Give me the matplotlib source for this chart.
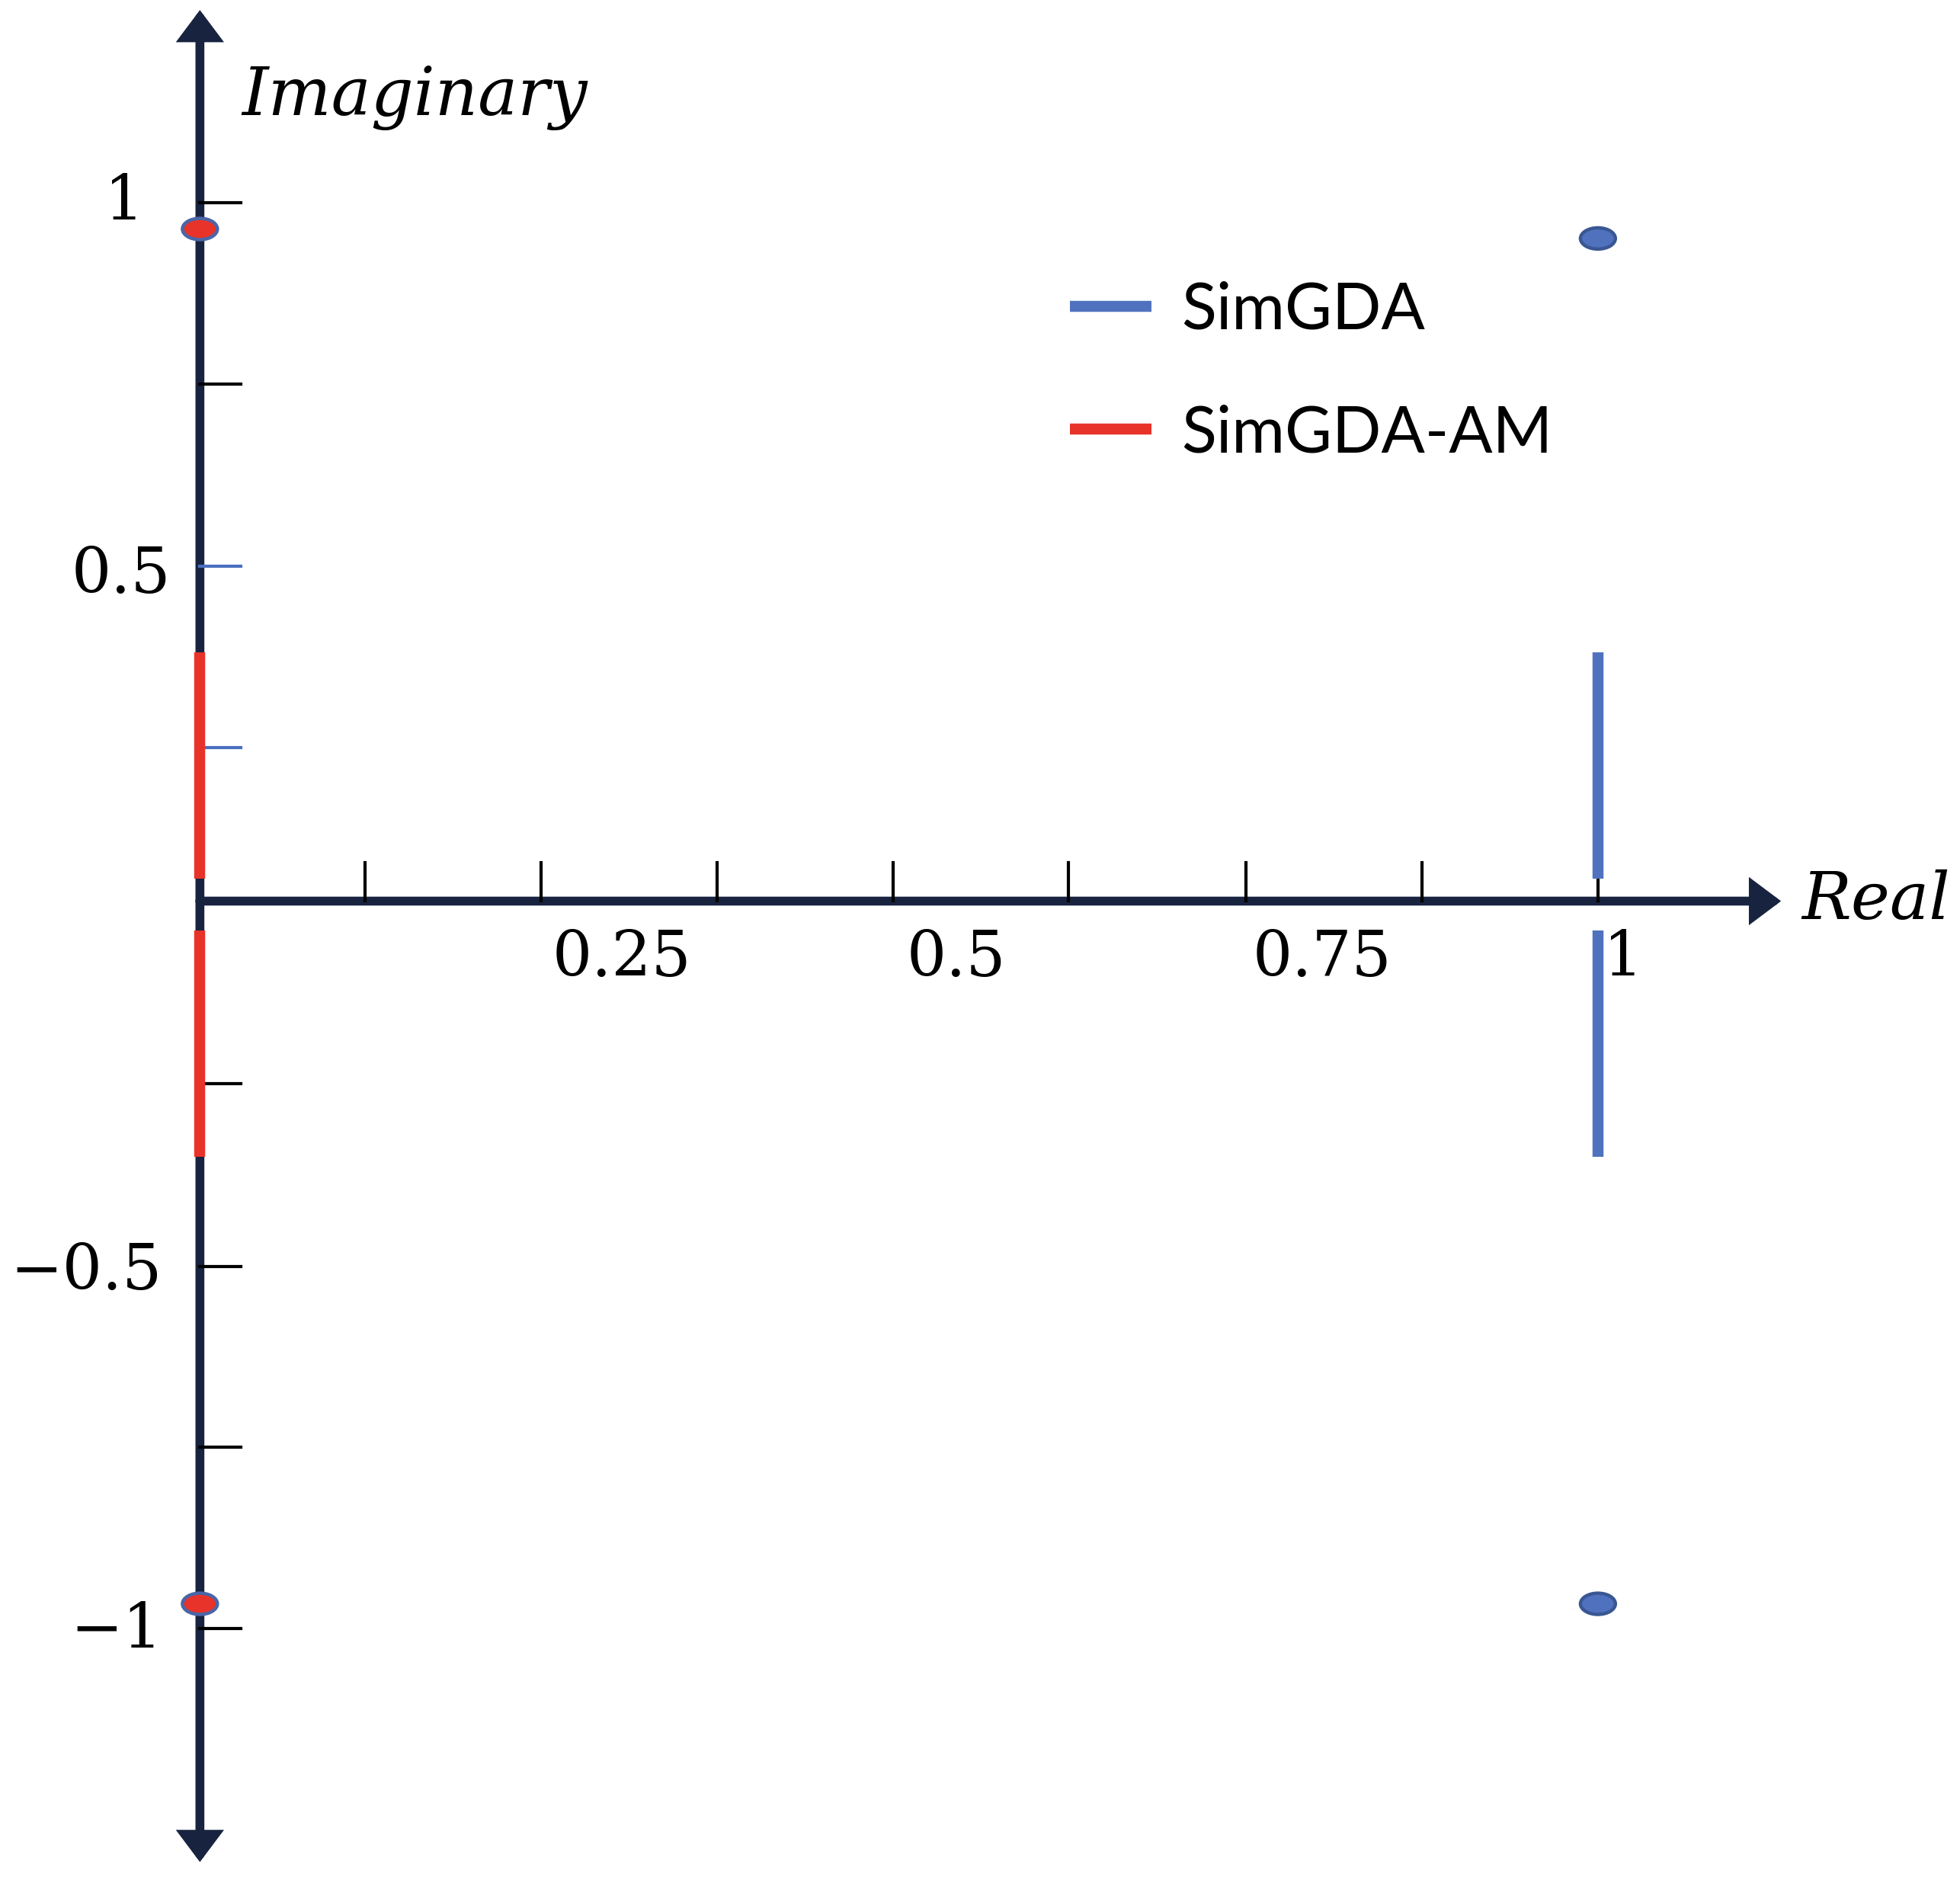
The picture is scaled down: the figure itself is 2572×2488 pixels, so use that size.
import numpy as np
import matplotlib.pyplot as plt
from matplotlib.patches import Ellipse

# eigenvalue pictures
simgda_pts_re = [1.0, 1.0]
simgda_pts_im = [0.911, -0.966]
simgda_seg_re = [1.0, 1.0]
simgda_seg_lo = [0.031, -0.351]
simgda_seg_hi = [0.342, -0.040]

am_pts_re = [0.0, 0.0]
am_pts_im = [0.924, -0.966]
am_seg_re = [0.0, 0.0]
am_seg_lo = [0.031, -0.351]
am_seg_hi = [0.342, -0.040]

# tick marks as drawn in the picture
x_ticks = [0.118, 0.244, 0.370, 0.496, 0.621, 0.748, 0.874, 1.0]
x_labels = ["0.25", "0.5", "0.75", "1"]
x_label_pos = [0.302, 0.541, 0.803, 1.018]
y_ticks = [0.96, 0.711, 0.46, 0.211, -0.251, -0.502, -0.751, -1.0]
y_tick_colors = ['black', 'black', '#4a6fc0', '#4a6fc0', 'black', 'black', 'black', 'black']
y_labels = ["1", "0.5", "\u22120.5", "\u22121"]
y_label_val = [0.96, 0.448, -0.51, -1.003]
y_label_right = [-0.040, -0.021, -0.027, -0.027]

blue = '#5072be'
blue_edge = '#3a5793'
red = '#e8332a'
navy = '#17233f'

fig = plt.figure(figsize=(12.86, 12.44), dpi=200)
ax = fig.add_axes([0, 0, 1, 1])
ax.set_xlim(-0.143, 1.259)
ax.set_ylim(-1.3677, 1.2388)
ax.axis('off')

# axes with arrow heads
arrow = dict(arrowstyle='-|>,head_length=0.6,head_width=0.45', lw=4.2, color=navy,
             shrinkA=0, shrinkB=0, mutation_scale=16, joinstyle='miter')
ax.annotate('', xy=(1.131, 0), xytext=(0, 0), arrowprops=arrow, zorder=2)
ax.annotate('', xy=(0, 1.225), xytext=(0, 0), arrowprops=arrow, zorder=2)
ax.annotate('', xy=(0, -1.321), xytext=(0, 0), arrowprops=arrow, zorder=2)

# tick marks
for xt in x_ticks:
    ax.plot([xt, xt], [0, 0.0533], color='black', lw=1.5, zorder=3)
for yt, c in zip(y_ticks, y_tick_colors):
    ax.plot([0, 0.0295], [yt, yt], color=c, lw=1.5, zorder=3)

# tick labels
tfont = dict(family='DejaVu Serif', fontsize=29.5)
for lab, xp in zip(x_labels, x_label_pos):
    ax.text(xp, -0.079, lab, ha='center', va='center', **tfont)
for lab, yv, xr in zip(y_labels, y_label_val, y_label_right):
    ax.text(xr, yv, lab, ha='right', va='center', **tfont)

ax.text(0.03, 1.104, "Imaginary", ha='left', va='center', style='italic',
        family='DejaVu Serif', fontsize=31.5)
ax.text(1.146, 0.0, "Real", ha='left', va='center', style='italic',
        family='DejaVu Serif', fontsize=31)

# segments
for i in range(2):
    ax.plot([simgda_seg_re[i]] * 2, [simgda_seg_lo[i], simgda_seg_hi[i]], color=blue,
            lw=5.2, solid_capstyle='butt', zorder=4, label='SimGDA' if i == 0 else None)
    ax.plot([am_seg_re[i]] * 2, [am_seg_lo[i], am_seg_hi[i]], color=red,
            lw=5.2, solid_capstyle='butt', zorder=4, label='SimGDA-AM' if i == 0 else None)

# points
for xr, yi in zip(simgda_pts_re, simgda_pts_im):
    ax.add_patch(Ellipse((xr, yi), 0.025, 0.0292, facecolor=blue, edgecolor=blue_edge,
                         lw=1.6, zorder=5))
for xr, yi in zip(am_pts_re, am_pts_im):
    ax.add_patch(Ellipse((xr, yi), 0.025, 0.0292, facecolor=red, edgecolor='#4a66a8',
                         lw=1.6, zorder=5))

ax.legend(loc='upper left', bbox_to_anchor=(0.546, 0.852), frameon=False,
          prop=dict(family='Lato', size=30.5), handlelength=1.26, handletextpad=0.46,
          labelspacing=0.99, borderpad=0, borderaxespad=0)

plt.savefig('out.png', dpi=200)
